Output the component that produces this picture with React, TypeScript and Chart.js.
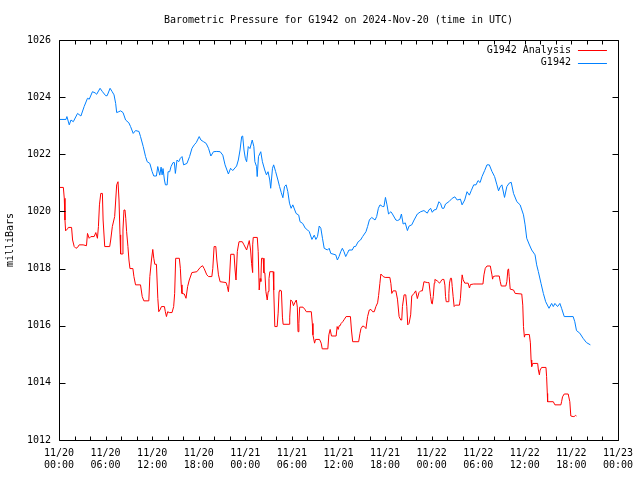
import React, { useEffect, useRef } from "react";
import { Chart, registerables } from "chart.js";

Chart.register(...registerables);

const TITLE = "Barometric Pressure for G1942 on 2024-Nov-20 (time in UTC)";
const Y_LABEL = "milliBars";
const SERIES_NAMES = ["G1942 Analysis", "G1942"];

// x tick labels (every 6 hours from 2024-11-20 00:00 UTC)
const xTickDates = ["11/20", "11/20", "11/20", "11/20", "11/21", "11/21", "11/21", "11/21", "11/22", "11/22", "11/22", "11/22", "11/23"];
const xTickTimes = ["00:00", "06:00", "12:00", "18:00", "00:00", "06:00", "12:00", "18:00", "00:00", "06:00", "12:00", "18:00", "00:00"];

// G1942 (observed) — hours since 11/20 00:00
const blueHours = [
  0.13, 0.9, 1.02, 1.32, 1.54, 1.84, 2.39, 2.82, 3.24, 3.67, 3.9, 4.31, 4.65, 4.85, 5.29, 5.6, 6.02, 6.2, 6.58, 6.85,
  7.09, 7.3, 7.43, 7.7, 7.94, 8.25, 8.58, 9.0, 9.22, 9.56, 9.86, 10.3, 10.5, 10.85, 11.15, 11.36, 11.7, 12.0, 12.21, 12.55,
  12.72, 12.98, 13.15, 13.28, 13.4, 13.58, 13.71, 13.93, 14.05, 14.26, 14.43, 14.69, 14.86, 14.99, 15.2, 15.42, 15.63, 15.85, 16.05, 16.48,
  16.82, 17.13, 17.42, 17.68, 18.06, 18.28, 18.62, 18.96, 19.26, 19.56, 19.9, 20.33, 20.76, 21.1, 21.39, 21.82, 22.1, 22.38, 22.88, 23.1,
  23.32, 23.53, 23.66, 23.83, 24.0, 24.17, 24.38, 24.6, 24.89, 25.1, 25.23, 25.45, 25.53, 25.7, 25.85, 25.99, 26.2, 26.5, 26.72, 26.93,
  27.15, 27.27, 27.5, 27.65, 27.9, 28.2, 28.41, 28.63, 28.84, 29.05, 29.26, 29.47, 29.69, 29.9, 30.12, 30.54, 30.88, 31.05, 31.39, 31.73,
  32.03, 32.24, 32.58, 32.88, 33.09, 33.3, 33.52, 33.73, 33.94, 34.16, 34.58, 34.8, 35.01, 35.65, 35.86, 36.07, 36.29, 36.5, 36.71, 36.93,
  37.14, 37.35, 37.78, 37.99, 38.2, 38.54, 38.84, 39.11, 39.54, 39.75, 39.98, 40.28, 40.71, 40.92, 41.14, 41.35, 41.69, 41.86, 42.05, 42.25,
  42.45, 42.75, 42.95, 43.39, 43.6, 43.9, 44.11, 44.33, 44.6, 44.88, 45.1, 45.44, 45.74, 46.16, 46.59, 47.01, 47.44, 47.65, 47.87, 48.08,
  48.3, 48.6, 48.94, 49.15, 49.36, 49.58, 49.79, 50.22, 50.65, 50.99, 51.29, 51.71, 51.92, 52.26, 52.56, 52.86, 53.12, 53.42, 53.72, 53.98,
  54.24, 54.49, 54.83, 55.13, 55.43, 55.77, 56.11, 56.41, 56.62, 56.83, 57.05, 57.39, 57.69, 57.99, 58.25, 58.55, 58.98, 59.4, 59.83, 60.04,
  60.25, 60.55, 60.89, 61.32, 61.53, 61.74, 62.09, 62.39, 62.69, 63.12, 63.46, 63.67, 63.88, 64.22, 64.52, 64.74, 65.08, 66.23, 66.44, 66.66,
  67.08, 67.51, 67.94, 68.45,
];
const blueValues = [
  1023.22, 1023.22, 1023.32, 1023.03, 1023.2, 1023.14, 1023.43, 1023.34, 1023.67, 1023.96, 1023.93, 1024.19, 1024.15, 1024.1, 1024.31, 1024.19, 1024.05, 1024.05, 1024.31, 1024.19,
  1024.08, 1023.78, 1023.46, 1023.49, 1023.52, 1023.46, 1023.2, 1023.1, 1022.97, 1022.73, 1022.83, 1022.8, 1022.62, 1022.27, 1021.92, 1021.74, 1021.68, 1021.39, 1021.24, 1021.24,
  1021.57, 1021.27, 1021.55, 1021.28, 1021.5, 1021.1, 1020.93, 1020.93, 1021.39, 1021.39, 1021.57, 1021.71, 1021.71, 1021.33, 1021.8, 1021.74, 1021.86, 1021.92, 1021.63, 1021.68,
  1021.92, 1022.21, 1022.33, 1022.41, 1022.62, 1022.5, 1022.44, 1022.38, 1022.21, 1021.94, 1022.09, 1022.1, 1022.09, 1021.97, 1021.63, 1021.31, 1021.51, 1021.43, 1021.59, 1021.8,
  1022.15, 1022.62, 1022.64, 1022.15, 1021.86, 1021.74, 1022.27, 1022.2, 1022.5, 1022.27, 1021.74, 1021.57, 1021.22, 1021.92, 1022.01, 1022.09, 1021.74, 1021.45, 1021.28, 1021.39,
  1021.1, 1020.81, 1021.51, 1021.63, 1021.4, 1021.1, 1020.87, 1020.66, 1020.48, 1020.87, 1020.93, 1020.7, 1020.29, 1020.11, 1020.23, 1019.93, 1019.87, 1019.64, 1019.58, 1019.41,
  1019.35, 1019.29, 1019.02, 1019.17, 1019.02, 1019.12, 1019.49, 1019.41, 1019.06, 1018.71, 1018.65, 1018.71, 1018.53, 1018.48, 1018.3, 1018.42, 1018.59, 1018.71, 1018.59, 1018.42,
  1018.53, 1018.65, 1018.65, 1018.77, 1018.77, 1018.94, 1019.0, 1019.12, 1019.29, 1019.47, 1019.7, 1019.79, 1019.7, 1019.82, 1020.11, 1020.23, 1020.17, 1020.17, 1020.49, 1020.23,
  1019.91, 1019.99, 1019.91, 1019.7, 1019.68, 1019.72, 1019.91, 1019.56, 1019.6, 1019.33, 1019.49, 1019.53, 1019.7, 1019.91, 1019.99, 1020.03, 1019.94, 1020.05, 1020.11, 1019.97,
  1020.05, 1020.07, 1020.34, 1020.28, 1020.11, 1020.11, 1020.26, 1020.34, 1020.46, 1020.51, 1020.4, 1020.43, 1020.23, 1020.4, 1020.69, 1020.57, 1020.74, 1020.93, 1020.93, 1021.08,
  1021.01, 1021.22, 1021.43, 1021.63, 1021.63, 1021.4, 1021.22, 1020.93, 1020.72, 1020.86, 1020.93, 1020.49, 1020.87, 1020.99, 1021.02, 1020.63, 1020.34, 1020.23, 1019.88, 1019.53,
  1019.06, 1018.86, 1018.65, 1018.48, 1018.13, 1017.9, 1017.48, 1017.13, 1016.84, 1016.61, 1016.78, 1016.67, 1016.78, 1016.67, 1016.78, 1016.61, 1016.32, 1016.32, 1016.14, 1015.83,
  1015.74, 1015.56, 1015.41, 1015.33,
];

// G1942 Analysis — hours since 11/20 00:00
const redHours = [
  0.13, 0.56, 0.68, 0.77, 0.85, 1.1, 1.2, 1.62, 1.75, 1.96, 2.18, 2.39, 2.6, 3.1, 3.54, 3.67, 3.89, 4.1, 4.53, 4.74,
  4.95, 5.08, 5.21, 5.38, 5.59, 5.68, 5.89, 6.53, 6.66, 6.87, 7.17, 7.43, 7.6, 7.73, 7.86, 7.94, 8.16, 8.24, 8.37, 8.5,
  8.6, 8.71, 8.88, 9.01, 9.14, 9.52, 9.65, 9.86, 10.5, 10.72, 10.93, 11.57, 11.7, 11.91, 12.08, 12.21, 12.34, 12.55, 12.73, 12.85,
  13.0, 13.2, 13.58, 13.7, 13.84, 14.0, 14.2, 14.56, 14.77, 14.9, 15.03, 15.5, 15.63, 15.74, 15.84, 16.14, 16.36, 16.57, 16.78, 17.12,
  17.76, 18.19, 18.49, 18.7, 19.04, 19.26, 19.69, 19.81, 19.98, 20.2, 20.33, 20.54, 20.75, 21.52, 21.69, 21.82, 21.95, 22.12, 22.55, 22.68,
  22.8, 22.97, 23.19, 23.61, 23.83, 24.17, 24.51, 24.68, 24.81, 24.94, 24.95, 25.02, 25.54, 25.66, 25.79, 25.9, 26.0, 26.09, 26.3, 26.4,
  26.52, 26.65, 26.82, 26.95, 27.05, 27.16, 27.59, 27.66, 27.8, 28.1, 28.23, 28.35, 28.44, 28.65, 28.78, 28.87, 29.64, 29.72, 29.85, 30.05,
  30.2, 30.36, 30.57, 30.7, 30.79, 30.9, 31.0, 31.43, 31.65, 31.86, 32.5, 32.63, 32.71, 32.92, 33.05, 33.56, 33.77, 33.91, 34.63, 34.76,
  34.93, 35.1, 35.7, 35.83, 35.96, 36.09, 36.21, 36.34, 36.55, 36.77, 36.98, 37.54, 37.67, 37.83, 38.6, 38.77, 38.9, 39.12, 39.33, 39.54,
  39.75, 39.97, 40.18, 40.4, 40.61, 40.82, 41.04, 41.17, 41.33, 41.46, 41.76, 42.01, 42.62, 42.75, 42.87, 43.04, 43.39, 43.6, 43.81, 44.02,
  44.15, 44.24, 44.45, 44.67, 44.8, 44.92, 45.09, 45.3, 45.44, 45.73, 45.95, 46.16, 46.37, 46.59, 46.8, 47.01, 47.44, 47.66, 47.87, 48.0,
  48.08, 48.21, 48.34, 48.42, 48.72, 49.02, 49.15, 49.36, 49.58, 49.71, 49.79, 49.88, 50.13, 50.22, 50.3, 50.43, 50.56, 50.65, 50.77, 50.9,
  51.07, 51.58, 51.71, 51.84, 51.93, 52.06, 52.27, 52.7, 52.87, 53.0, 53.42, 53.72, 54.61, 54.74, 54.91, 55.13, 55.56, 55.77, 55.85, 55.94,
  56.2, 56.71, 56.84, 56.97, 57.56, 57.69, 57.82, 57.91, 57.99, 58.12, 58.55, 58.76, 59.61, 59.74, 59.83, 59.95, 60.04, 60.59, 60.72, 60.81,
  60.89, 61.02, 61.66, 61.75, 61.88, 61.97, 62.17, 62.73, 62.81, 62.9, 62.94, 63.67, 63.88, 64.65, 64.74, 64.86, 65.08, 65.59, 65.8, 65.93,
  66.23, 66.36, 66.53, 66.66,
];
const redValues = [
  1020.84, 1020.84, 1020.46, 1019.7, 1019.32, 1019.39, 1019.44, 1019.44, 1019.0, 1018.77, 1018.71, 1018.74, 1018.83, 1018.83, 1018.8, 1019.23, 1019.06, 1019.12, 1019.12, 1019.26,
  1019.06, 1019.47, 1020.23, 1020.63, 1020.63, 1019.7, 1018.77, 1018.77, 1019.0, 1019.47, 1019.82, 1020.93, 1021.04, 1020.4, 1019.18, 1018.51, 1018.51, 1019.35, 1020.05, 1020.05,
  1019.76, 1019.29, 1018.77, 1018.3, 1018.0, 1018.0, 1017.72, 1017.43, 1017.43, 1017.02, 1016.87, 1016.87, 1017.72, 1018.3, 1018.67, 1018.36, 1018.15, 1018.15, 1016.96, 1016.49,
  1016.55, 1016.67, 1016.67, 1016.49, 1016.32, 1016.49, 1016.46, 1016.46, 1016.67, 1017.13, 1018.36, 1018.36, 1018.01, 1017.43, 1017.13, 1017.11, 1016.96, 1017.37, 1017.6, 1017.86,
  1017.89, 1018.04, 1018.1, 1018.0, 1017.78, 1017.72, 1017.72, 1018.0, 1018.77, 1018.77, 1018.3, 1017.78, 1017.54, 1017.51, 1017.37, 1017.19, 1017.6, 1018.5, 1018.5, 1017.95,
  1017.6, 1018.6, 1018.94, 1018.94, 1018.83, 1018.65, 1018.98, 1018.65, 1018.18, 1017.86, 1018.83, 1019.09, 1019.09, 1018.59, 1017.25, 1017.65, 1017.55, 1018.36, 1018.36, 1017.85,
  1017.85, 1017.2, 1016.9, 1017.2, 1017.65, 1017.89, 1017.89, 1017.25, 1015.97, 1015.97, 1016.44, 1017.2, 1017.25, 1017.22, 1016.3, 1016.05, 1016.05, 1016.3, 1016.9, 1016.85,
  1016.7, 1016.8, 1016.9, 1016.65, 1015.79, 1016.08, 1016.65, 1016.65, 1016.58, 1016.49, 1016.49, 1016.08, 1015.68, 1015.39, 1015.52, 1015.52, 1015.39, 1015.19, 1015.19, 1015.68,
  1015.87, 1015.64, 1015.64, 1015.97, 1015.87, 1016.0, 1016.0, 1016.08, 1016.14, 1016.23, 1016.32, 1016.32, 1015.85, 1015.44, 1015.44, 1015.73, 1015.9, 1015.99, 1015.97, 1015.9,
  1016.32, 1016.55, 1016.57, 1016.49, 1016.49, 1016.67, 1016.8, 1017.06, 1017.47, 1017.81, 1017.72, 1017.69, 1017.69, 1017.48, 1017.13, 1017.22, 1017.22, 1016.93, 1016.32, 1016.2,
  1016.2, 1016.67, 1017.08, 1017.08, 1016.67, 1016.03, 1016.08, 1016.38, 1017.04, 1017.13, 1017.22, 1016.95, 1017.16, 1017.22, 1017.22, 1017.54, 1017.51, 1017.51, 1017.02, 1016.78,
  1016.76, 1017.02, 1017.49, 1017.62, 1017.57, 1017.49, 1017.54, 1017.62, 1017.62, 1017.42, 1017.02, 1016.84, 1016.84, 1017.13, 1017.49, 1017.66, 1017.66, 1017.37, 1017.02, 1016.67,
  1016.72, 1016.72, 1016.96, 1017.49, 1017.78, 1017.61, 1017.49, 1017.49, 1017.32, 1017.44, 1017.46, 1017.46, 1017.46, 1017.78, 1018.01, 1018.09, 1018.09, 1017.78, 1017.63, 1017.72,
  1017.74, 1017.74, 1017.54, 1017.39, 1017.39, 1017.54, 1017.95, 1017.99, 1017.72, 1017.28, 1017.25, 1017.13, 1017.11, 1016.72, 1015.97, 1015.6, 1015.69, 1015.69, 1015.4, 1014.8,
  1014.57, 1014.68, 1014.68, 1014.45, 1014.28, 1014.45, 1014.54, 1014.54, 1014.22, 1013.63, 1013.34, 1013.34, 1013.23, 1013.23, 1013.34, 1013.51, 1013.61, 1013.61, 1013.34, 1012.84,
  1012.82, 1012.82, 1012.86, 1012.84,
];

const RED = "#ff0000";
const BLUE = "#0080ff";
const FONT = "DejaVu Sans Mono";

const toPoints = (xs: number[], ys: number[]) => xs.map((x, i) => ({ x, y: ys[i] }));

const framePlugin = {
  id: "gnuFrame",
  afterDraw(chart: any) {
    const { ctx, chartArea: a, scales } = chart;
    ctx.save();
    ctx.strokeStyle = "#000";
    ctx.lineWidth = 1;
    const L = Math.round(a.left) + 0.5;
    const R = Math.round(a.right) + 0.5;
    const T = Math.round(a.top) + 0.5;
    const B = Math.round(a.bottom) + 0.5;
    ctx.beginPath();
    ctx.rect(L, T, R - L, B - T);
    // x ticks every 2 hours, inward on top and bottom
    for (let h = 0; h <= 72; h += 2) {
      const px = Math.round(scales.x.getPixelForValue(h)) + 0.5;
      ctx.moveTo(px, B);
      ctx.lineTo(px, B - 4);
      ctx.moveTo(px, T);
      ctx.lineTo(px, T + 4);
    }
    for (let v = 1012; v <= 1026; v += 2) {
      const py = Math.round(scales.y.getPixelForValue(v)) + 0.5;
      ctx.moveTo(L, py);
      ctx.lineTo(L + 6, py);
      ctx.moveTo(R, py);
      ctx.lineTo(R - 6, py);
    }
    ctx.stroke();

    // key (legend) inside top-right
    ctx.font = `10px "${FONT}"`;
    ctx.fillStyle = "#000";
    ctx.textAlign = "right";
    ctx.textBaseline = "middle";
    const colors = [RED, BLUE];
    SERIES_NAMES.forEach((name, i) => {
      const y = a.top + 10 + i * 12.5;
      ctx.fillText(name, a.right - 47, y);
      ctx.beginPath();
      ctx.strokeStyle = colors[i];
      ctx.moveTo(a.right - 40, Math.round(y) + 0.5);
      ctx.lineTo(a.right - 11, Math.round(y) + 0.5);
      ctx.stroke();
    });
    ctx.restore();
  },
};

export default function App() {
  const ref = useRef<HTMLCanvasElement | null>(null);

  useEffect(() => {
    if (!ref.current) return;
    const chart = new Chart(ref.current, {
      type: "line",
      data: {
        datasets: [
          {
            label: SERIES_NAMES[0],
            data: toPoints(redHours, redValues),
            borderColor: RED,
            backgroundColor: RED,
            borderWidth: 1,
            pointRadius: 0,
            tension: 0,
          },
          {
            label: SERIES_NAMES[1],
            data: toPoints(blueHours, blueValues),
            borderColor: BLUE,
            backgroundColor: BLUE,
            borderWidth: 1,
            pointRadius: 0,
            tension: 0,
          },
        ],
      },
      options: {
        animation: false,
        responsive: false,
        devicePixelRatio: 1,
        parsing: false,
        normalized: true,
        events: [],
        layout: { padding: { left: 0, right: 19, top: 0, bottom: 0 } },
        plugins: {
          legend: { display: false },
          tooltip: { enabled: false },
          title: {
            display: true,
            text: TITLE,
            fullSize: false,
            color: "#000",
            font: { family: FONT, size: 10, weight: "normal", lineHeight: 1.2 },
            padding: { top: 14, bottom: 14 },
          },
        },
        scales: {
          x: {
            type: "linear",
            min: 0,
            max: 72,
            grid: { display: false, drawTicks: false },
            border: { display: false },
            ticks: {
              stepSize: 6,
              autoSkip: false,
              maxRotation: 0,
              padding: 7,
              color: "#000",
              font: { family: FONT, size: 10, lineHeight: 1.2 },
              callback: (v: any) => {
                const i = Math.round(Number(v) / 6);
                return [xTickDates[i], xTickTimes[i]];
              },
            },
            afterFit: (s: any) => {
              s.height = 40;
            },
          },
          y: {
            min: 1012,
            max: 1026,
            grid: { display: false, drawTicks: false },
            border: { display: false },
            ticks: {
              stepSize: 2,
              padding: 8,
              color: "#000",
              font: { family: FONT, size: 10 },
              callback: (v: any) => String(Math.round(Number(v))),
            },
            title: {
              display: true,
              text: Y_LABEL,
              color: "#000",
              font: { family: FONT, size: 10, lineHeight: 1.2 },
              padding: { top: 4, bottom: 0 },
            },
            afterFit: (s: any) => {
              s.width = 59;
            },
          },
        },
      },
      plugins: [framePlugin],
    } as any);
    return () => chart.destroy();
  }, []);

  return (
    <div style={{ position: "absolute", left: 0, top: 0, width: 640, height: 480, background: "#fff" }}>
      <canvas ref={ref} width={640} height={480} style={{ display: "block" }} />
    </div>
  );
}
